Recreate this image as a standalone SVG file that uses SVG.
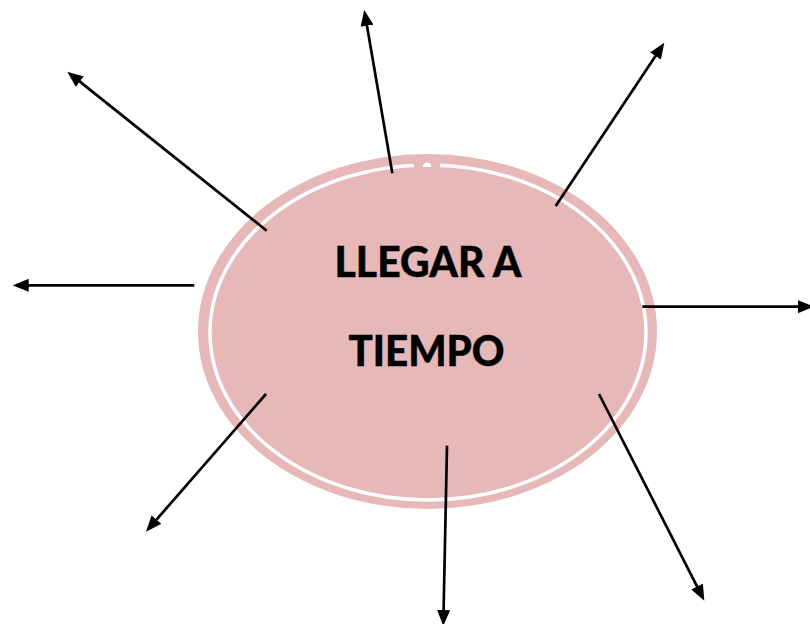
<svg xmlns="http://www.w3.org/2000/svg" width="810" height="624" viewBox="0 0 810 624">
<style>
.ln{stroke:#000;stroke-width:2.7;fill:none;marker-end:url(#ah)}
.t{font-family:Lato,"Open Sans","Liberation Sans",sans-serif;font-weight:900;font-size:42px;fill:#000;stroke:#000;stroke-width:0.4}
</style>
<defs>
<marker id="ah" markerUnits="userSpaceOnUse" markerWidth="16" markerHeight="13" viewBox="0 0 16 13" refX="10" refY="6.5" orient="auto">
<path d="M0,0 L16,6.5 L0,13 z" fill="#000"/>
</marker>
</defs>
<rect width="810" height="624" fill="#fff"/>
<g id="center">
<ellipse cx="427.5" cy="331.5" rx="229.5" ry="177.5" fill="#E6B8B7"/>
<ellipse cx="428" cy="332.5" rx="218" ry="167.5" fill="none" stroke="#fff" stroke-width="3.5"/>
<rect x="414" y="162" width="26" height="7" fill="#E6B8B7"/>
<path d="M422.5,167 A4.5,4.5 0 0 1 431.5,167 z" fill="#fff"/>
<text class="t" x="428" y="277" text-anchor="middle" textLength="187" lengthAdjust="spacingAndGlyphs">LLEGAR A</text>
<text class="t" x="426.5" y="366" text-anchor="middle" textLength="156" lengthAdjust="spacingAndGlyphs">TIEMPO</text>
</g>
<g id="connectors">
<line class="ln" x1="266.7" y1="230.7" x2="72" y2="75.4"/>
<line class="ln" x1="392.3" y1="173.3" x2="365.3" y2="15.9"/>
<line class="ln" x1="194.3" y1="285.3" x2="18.7" y2="285.3"/>
<line class="ln" x1="555.7" y1="206" x2="661" y2="47.7"/>
<line class="ln" x1="642.3" y1="306.7" x2="808" y2="306.7"/>
<line class="ln" x1="266" y1="394" x2="149.9" y2="527.2"/>
<line class="ln" x1="447" y1="445.7" x2="443.4" y2="620"/>
<line class="ln" x1="599" y1="394" x2="701.6" y2="595.4"/>
</g>
</svg>
